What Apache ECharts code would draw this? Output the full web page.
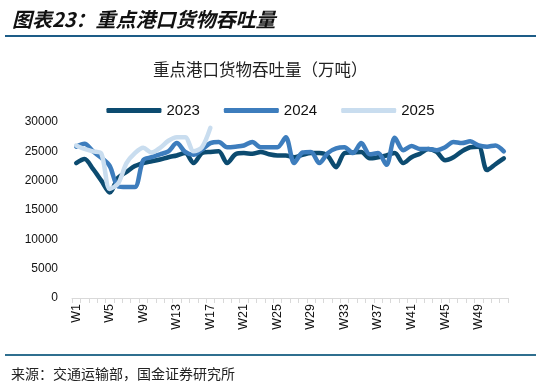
<!DOCTYPE html>
<html><head><meta charset="utf-8">
<script src="https://cdn.jsdelivr.net/npm/echarts@6/dist/echarts.min.js"></script>
<style>html,body{margin:0;padding:0;background:#fff}#c{width:541px;height:385px}</style>
</head><body><div id="c"></div>
<script>
var weeks = [];
for (var i = 1; i <= 52; i++) weeks.push('W' + i);
var s2023 = [23000,23700,22000,20000,18000,20500,21500,22500,23000,23300,23600,24000,24300,24700,23000,24700,24900,25000,23000,24500,24700,24600,24900,24500,24300,24300,24000,24400,24700,24700,24200,22300,24700,24800,24900,23800,24000,24300,24700,23000,24000,24600,25400,24900,23500,24000,25000,25700,25800,21800,22800,23800];
var s2024 = [25800,26300,25000,23900,22500,19000,18900,18900,23500,24000,24500,25000,26400,24900,24400,25300,26400,26600,25700,25800,26000,26600,25700,25700,25700,27400,23000,24800,24900,23000,24700,25500,25700,24700,26400,24500,24700,22700,27300,25200,25900,25400,25400,25200,25700,26600,26400,26700,26000,25800,26000,25000];
var s2025 = [26000,25400,25000,24600,18600,19500,23000,24700,25600,24800,25600,26800,27400,27400,25000,25700,29000];
var seriesNames = ['2023','2024','2025'];
var colors = ['#0c4b70','#3d7dbd','#c9ddef'];

var chart = echarts.init(document.getElementById('c'));
var data = [s2023, s2024, s2025];
chart.setOption({
  animation: false,
  title: [
    {text: '图表23：重点港口货物吞吐量', left: 7, top: 4,
     textStyle: {fontFamily: 'Noto Sans CJK SC', fontSize: 20, fontStyle: 'italic', fontWeight: 'bold', color: '#111'}},
    {text: '重点港口货物吞吐量（万吨）', left: 148, top: 56,
     textStyle: {fontFamily: 'Noto Sans CJK SC', fontSize: 16.5, fontWeight: 'normal', color: '#222'}},
    {text: '来源：交通运输部，国金证券研究所', left: 6, top: 362,
     textStyle: {fontFamily: 'Noto Sans CJK SC', fontSize: 14, fontWeight: 'normal', color: '#222'}}
  ],
  graphic: [
    {type: 'rect', shape: {x: 5, y: 35, width: 531, height: 2}, style: {fill: '#1d5c87'}},
    {type: 'rect', shape: {x: 5, y: 354, width: 531, height: 2}, style: {fill: '#2f6f8f'}}
  ],
  legend: {
    top: 98, left: 'center', itemWidth: 55, itemHeight: 5, itemGap: 24, icon: 'roundRect',
    textStyle: {fontFamily: 'Liberation Sans', fontSize: 15, color: '#111'},
    data: seriesNames
  },
  grid: {left: 72, right: 33, top: 122, bottom: 87},
  xAxis: {
    type: 'category', data: weeks, boundaryGap: true,
    axisLine: {lineStyle: {color: '#d9d9d9'}},
    axisTick: {show: true, interval: 0, lineStyle: {color: '#d9d9d9'}},
    axisLabel: {interval: 3, rotate: 90, fontFamily: 'Liberation Sans', fontSize: 12.5, color: '#111', margin: 6}
  },
  yAxis: {
    type: 'value', min: 0, max: 30000, interval: 5000,
    splitLine: {show: false}, axisLine: {show: false}, axisTick: {show: false},
    axisLabel: {fontFamily: 'Liberation Sans', fontSize: 12, color: '#111', margin: 14,
                formatter: function (v) { return String(v); }}
  },
  series: seriesNames.map(function (n, k) {
    return {
      name: n, type: 'line', data: data[k], smooth: 0.3, showSymbol: false, symbol: 'none',
      lineStyle: {width: 4.5, color: colors[k], cap: 'round', join: 'round'},
      itemStyle: {color: colors[k]}, z: 2 + k
    };
  })
});
</script></body></html>
